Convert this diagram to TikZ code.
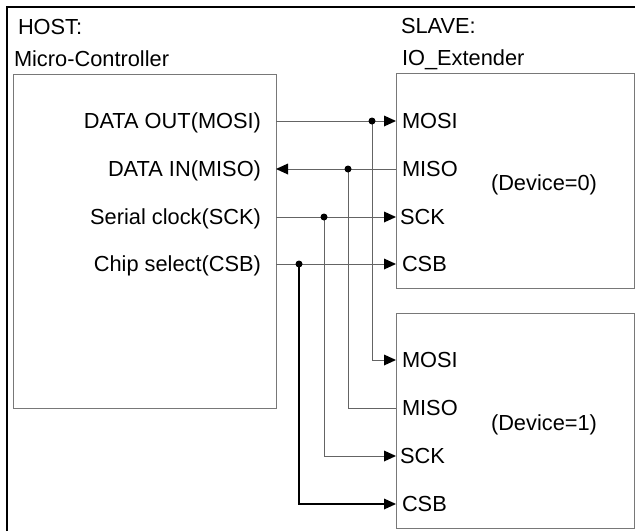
\documentclass[tikz,border=0pt]{standalone}
\usepackage{fontspec}
\setmainfont{Liberation Sans}
\usetikzlibrary{arrows.meta}
\definecolor{linecol}{RGB}{100,100,100}
\definecolor{boxcol}{RGB}{120,120,120}
\begin{document}
\begin{tikzpicture}[x=1pt,y=-1pt,
  txt/.style={inner sep=0pt,outer sep=0pt,text height=15.5pt,text depth=0pt,font=\fontsize{21.8}{26}\selectfont},
  devbox/.style={draw=boxcol,line width=1pt,inner sep=0pt,outer sep=0pt,anchor=north west},
  sig/.style={draw=linecol,line width=1pt},
  csbline/.style={draw=black,line width=1.8pt},
  tri/.tip={Triangle[length=12pt,width=11pt,color=black,fill=black,line width=0pt]},
  jdot/.style={circle,fill=black,inner sep=0pt,minimum size=7pt}
]
\useasboundingbox (0,0) rectangle (635,531);
% outer frame (top and left)
\draw[line width=2.5pt] (7,531) -- (7,7) -- (635,7);
% titles
\node[txt,anchor=west] (host-t) at (18,27) {HOST:};
\node[txt,anchor=west] (host-n) at (14,59) {Micro-Controller};
\node[txt,anchor=west] (slave-t) at (401,26) {SLAVE:};
\node[txt,anchor=west] (slave-n) at (402,58) {IO\_Extender};
% boxes
\node[devbox,minimum width=263pt,minimum height=334pt] (host) at (13,74) {};
\node[devbox,minimum width=238pt,minimum height=215pt] (dev0) at (396,73) {};
\node[devbox,minimum width=238pt,minimum height=215pt] (dev1) at (396,313) {};
% host labels
\node[txt,anchor=east] (hmosi) at (261,121) {DATA OUT(MOSI)};
\node[txt,anchor=east] (hmiso) at (261,169) {DATA IN(MISO)};
\node[txt,anchor=east] (hsck) at (261,217) {Serial clock(SCK)};
\node[txt,anchor=east] (hcsb) at (261,264) {Chip select(CSB)};
% device 0 labels
\node[txt,anchor=west] (amosi) at (402,121) {MOSI};
\node[txt,anchor=west] (amiso) at (402,169) {MISO};
\node[txt,anchor=west] (asck) at (400,217) {SCK};
\node[txt,anchor=west] (acsb) at (402,264) {CSB};
\node[txt] (d0) at (544,183) {(Device=0)};
% device 1 labels
\node[txt,anchor=west] (bmosi) at (402,360) {MOSI};
\node[txt,anchor=west] (bmiso) at (402,408) {MISO};
\node[txt,anchor=west] (bsck) at (400,456) {SCK};
\node[txt,anchor=west] (bcsb) at (402,504) {CSB};
\node[txt] (d1) at (544,423) {(Device=1)};
% junctions
\coordinate (jmosi) at (372,121);
\coordinate (jmiso) at (348,169);
\coordinate (jsck) at (324,217);
\coordinate (jcsb) at (299,264);
% lines to device 0
\draw[sig,-tri] (host.east |- amosi) -- (dev0.west |- amosi);
\draw[sig,-tri] (dev0.west |- amiso) -- (host.east |- amiso);
\draw[sig,-tri] (host.east |- asck) -- (dev0.west |- asck);
\draw[sig,-tri] (host.east |- acsb) -- (dev0.west |- acsb);
% branches to device 1
\draw[sig,-tri] (jmosi) |- (dev1.west |- bmosi);
\draw[sig] (jmiso) |- (dev1.west |- bmiso);
\draw[sig,-tri] (jsck) |- (dev1.west |- bsck);
\draw[csbline,-tri] (jcsb) |- (dev1.west |- bcsb);
% dots
\node[jdot] (dmosi) at (jmosi) {};
\node[jdot] (dmiso) at (jmiso) {};
\node[jdot] (dsck) at (jsck) {};
\node[jdot] (dcsb) at (jcsb) {};
\end{tikzpicture}
\end{document}
